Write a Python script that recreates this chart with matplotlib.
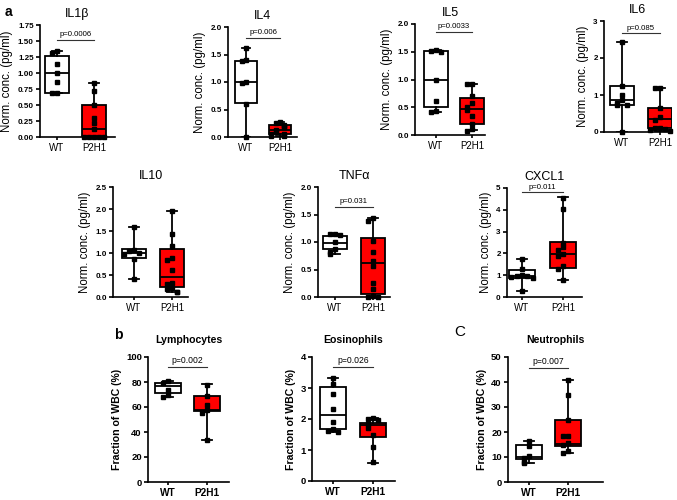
import matplotlib
matplotlib.use('Agg')
import matplotlib.pyplot as plt

plt.rcParams['font.family'] = ['Liberation Sans', 'DejaVu Sans']

groups = ['WT', 'P2H1']

# box stats per group: [min, q1, median, q3, max]
il1b_wt_box = [0.69, 0.69, 1.00, 1.27, 1.35]
il1b_p2h1_box = [0.00, 0.00, 0.13, 0.50, 0.85]
il1b_wt_pts = [1.34, 1.32, 1.14, 1.00, 0.86, 0.68, 0.68]
il1b_p2h1_pts = [0.85, 0.72, 0.50, 0.30, 0.22, 0.13, 0.0, 0.0, 0.0, 0.0, 0.0]

il4_wt_box = [0.00, 0.62, 1.00, 1.39, 1.62]
il4_p2h1_box = [0.01, 0.05, 0.12, 0.22, 0.28]
il4_wt_pts = [1.62, 1.40, 1.38, 1.00, 0.98, 0.60, 0.0]
il4_p2h1_pts = [0.28, 0.26, 0.22, 0.20, 0.18, 0.12, 0.10, 0.06, 0.05, 0.02, 0.01]

il5_wt_box = [0.41, 0.50, 1.00, 1.51, 1.53]
il5_p2h1_box = [0.09, 0.20, 0.47, 0.66, 0.92]
il5_wt_pts = [1.53, 1.52, 1.50, 1.00, 0.62, 0.43, 0.41]
il5_p2h1_pts = [0.92, 0.91, 0.70, 0.57, 0.50, 0.45, 0.35, 0.20, 0.10, 0.08]

il6_wt_box = [0.00, 0.74, 0.86, 1.24, 2.44]
il6_p2h1_box = [0.00, 0.10, 0.35, 0.66, 1.20]
il6_wt_pts = [2.44, 1.25, 1.01, 0.86, 0.78, 0.74, 0.72, 0.0]
il6_p2h1_pts = [1.20, 1.18, 0.66, 0.40, 0.33, 0.12, 0.10, 0.08, 0.06, 0.02]

il10_wt_box = [0.42, 0.88, 1.00, 1.09, 1.59]
il10_p2h1_box = [0.11, 0.23, 0.46, 1.10, 1.96]
il10_wt_pts = [1.59, 1.06, 1.04, 1.00, 0.98, 0.87, 0.42]
il10_p2h1_pts = [1.95, 1.43, 1.17, 0.89, 0.84, 0.62, 0.32, 0.30, 0.20, 0.18, 0.12, 0.11]

tnf_wt_box = [0.79, 0.87, 0.98, 1.11, 1.14]
tnf_p2h1_box = [0.00, 0.06, 0.61, 1.07, 1.44]
tnf_wt_pts = [1.14, 1.14, 1.13, 1.00, 0.88, 0.81, 0.79]
tnf_p2h1_pts = [1.44, 1.38, 1.02, 0.82, 0.66, 0.57, 0.25, 0.15, 0.01, 0.0, 0.0]

cxcl1_wt_box = [0.28, 0.89, 0.95, 1.26, 1.74]
cxcl1_p2h1_box = [0.77, 1.35, 1.95, 2.51, 4.57]
cxcl1_wt_pts = [1.74, 1.28, 1.02, 0.98, 0.95, 0.90, 0.88, 0.28]
cxcl1_p2h1_pts = [4.52, 4.05, 2.50, 2.28, 2.15, 1.97, 1.90, 1.42, 1.30, 0.78]

lym_wt_box = [68, 71, 77, 79, 81]
lym_p2h1_box = [34, 57, 58, 69, 78.5]
lym_wt_pts = [81, 79, 74, 70, 68]
lym_p2h1_pts = [77.5, 69, 62, 58, 55, 34]

eos_wt_box = [1.59, 1.68, 2.13, 3.02, 3.32]
eos_p2h1_box = [0.59, 1.43, 1.80, 1.88, 2.02]
eos_wt_pts = [3.32, 3.14, 2.81, 2.32, 1.91, 1.68, 1.60, 1.59]
eos_p2h1_pts = [2.02, 2.00, 1.98, 1.85, 1.72, 1.48, 1.10, 0.60]

neu_wt_box = [7.7, 9.1, 10.0, 14.7, 16.4]
neu_p2h1_box = [11.7, 14.3, 15.3, 24.7, 40.7]
neu_wt_pts = [16.3, 14.5, 10.4, 9.6, 8.0, 7.7]
neu_p2h1_pts = [40.7, 35.0, 24.8, 18.6, 18.6, 15.8, 15.0, 12.4, 11.7]

# title, y max, tick step, decimals, p-value text
panels = [
    ('IL1β', 1.75, 0.25, 2, 'p=0.0006', il1b_wt_box, il1b_p2h1_box, il1b_wt_pts, il1b_p2h1_pts),
    ('IL4', 2.0, 0.5, 1, 'p=0.006', il4_wt_box, il4_p2h1_box, il4_wt_pts, il4_p2h1_pts),
    ('IL5', 2.0, 0.5, 1, 'p=0.0033', il5_wt_box, il5_p2h1_box, il5_wt_pts, il5_p2h1_pts),
    ('IL6', 3, 1, 0, 'p=0.085', il6_wt_box, il6_p2h1_box, il6_wt_pts, il6_p2h1_pts),
    ('IL10', 2.5, 0.5, 1, None, il10_wt_box, il10_p2h1_box, il10_wt_pts, il10_p2h1_pts),
    ('TNFα', 2.0, 0.5, 1, 'p=0.031', tnf_wt_box, tnf_p2h1_box, tnf_wt_pts, tnf_p2h1_pts),
    ('CXCL1', 5, 1, 0, 'p=0.011', cxcl1_wt_box, cxcl1_p2h1_box, cxcl1_wt_pts, cxcl1_p2h1_pts),
    ('Lymphocytes', 100, 20, 0, 'p=0.002', lym_wt_box, lym_p2h1_box, lym_wt_pts, lym_p2h1_pts),
    ('Eosinophils', 4, 1, 0, 'p=0.026', eos_wt_box, eos_p2h1_box, eos_wt_pts, eos_p2h1_pts),
    ('Neutrophils', 50, 10, 0, 'p=0.007', neu_wt_box, neu_p2h1_box, neu_wt_pts, neu_p2h1_pts),
]

# layout in pixels: y-axis x, x-axis end, top tick y, zero y, WT x, P2H1 x, p-bar fraction
layout = [
    (40, 115, 25, 137, 57, 94, 0.87),
    (228, 297, 27, 137, 246, 280, 0.90),
    (415, 485, 24, 135, 436, 472, 0.93),
    (604, 672, 21, 132, 622, 660, 0.89),
    (113, 188, 187, 297, 134, 172, None),
    (318, 390, 187, 297, 335, 373, 0.82),
    (507, 582, 188, 297, 522, 563, 0.96),
    (148, 229, 357, 482, 168, 207, 0.92),
    (312, 395, 357, 481, 333, 373, 0.92),
    (508, 603, 357, 482, 529, 568, 0.91),
]

W, H = 677, 500
fig = plt.figure(figsize=(W / 100, H / 100), dpi=100)


def spread(vals, ymax, step=0.13, tol=0.035):
    # spread overlapping points sideways like a Prism scatter
    offs, placed = [], []
    for v in vals:
        n = sum(1 for p in placed if abs(p - v) < tol * ymax)
        k = (n + 1) // 2
        offs.append(k * step * (-1 if n % 2 else 1))
        placed.append(v)
    return offs


for i, (panel, lay) in enumerate(zip(panels, layout)):
    title, ymax, step, dec, ptxt, wt_box, p_box, wt_pts, p_pts = panel
    L, R, T, B, xw, xp, pfrac = lay
    bottom_row = i >= 7
    ax = fig.add_axes([L / W, 1 - B / H, (R - L) / W, (B - T) / H])

    stats = []
    for box in (wt_box, p_box):
        stats.append(dict(whislo=box[0], q1=box[1], med=box[2], q3=box[3],
                          whishi=box[4], fliers=[]))
    bp = ax.bxp(stats, positions=[0, 1], widths=0.65, patch_artist=True,
                capwidths=0.25, showfliers=False,
                boxprops=dict(edgecolor='black', linewidth=1.3),
                whiskerprops=dict(color='black', linewidth=1.3),
                capprops=dict(color='black', linewidth=1.3),
                medianprops=dict(color='black', linewidth=1.3))
    for patch, fc in zip(bp['boxes'], ['white', '#ff0000']):
        patch.set_facecolor(fc)

    for pos, pts in ((0, wt_pts), (1, p_pts)):
        offs = spread(pts, ymax)
        ax.plot([pos + o for o in offs], pts, 's', color='black', ms=3,
                zorder=4, clip_on=False)

    ax.set_xlim((L - xw) / (xp - xw), (R - xw) / (xp - xw))
    ax.set_ylim(0, ymax)
    ticks = [k * step for k in range(int(round(ymax / step)) + 1)]
    ax.set_yticks(ticks)
    ax.set_yticklabels([f'{t:.{dec}f}' for t in ticks])
    ax.set_xticks([0, 1])
    ax.set_xticklabels(groups)

    for s in ('top', 'right'):
        ax.spines[s].set_visible(False)
    for s in ('left', 'bottom'):
        ax.spines[s].set_linewidth(1.2)

    if bottom_row:
        ax.tick_params(axis='y', length=3, width=1.2, labelsize=6.8, pad=1.5)
        ax.tick_params(axis='x', length=2.5, width=1.2, labelsize=7.3, pad=2)
        for lab in ax.get_yticklabels() + ax.get_xticklabels():
            lab.set_fontweight('bold')
        ax.set_ylabel('Fraction of WBC (%)', fontsize=7.6, fontweight='bold', labelpad=3)
        ax.set_title(title, fontsize=7.6, fontweight='bold', pad=10)
        ptsize = 6.2
    else:
        ax.tick_params(axis='y', length=3, width=1.2, labelsize=5.8, pad=1.5)
        ax.tick_params(axis='x', length=2.5, width=1.2, labelsize=7, pad=2)
        for lab in ax.get_yticklabels():
            lab.set_fontweight('bold')
        ax.set_ylabel('Norm. conc. (pg/ml)', fontsize=8.3, labelpad=3)
        ax.set_title(title, fontsize=9, pad=6)
        ptsize = 5.6

    if ptxt:
        yb = pfrac * ymax
        ax.plot([0, 1], [yb, yb], color='#333333', lw=0.8, clip_on=False)
        ax.text(0.5, yb + 0.015 * ymax, ptxt, ha='center', va='bottom',
                fontsize=ptsize, clip_on=False)

fig.text(8 / W, 1 - 12 / H, 'a', fontsize=10, fontweight='bold', ha='center', va='center')
fig.text(118 / W, 1 - 335 / H, 'b', fontsize=10, fontweight='bold', ha='center', va='center')
fig.text(460 / W, 1 - 332 / H, 'C', fontsize=11, ha='center', va='center')

fig.savefig('out.png', dpi=100, facecolor='white')
